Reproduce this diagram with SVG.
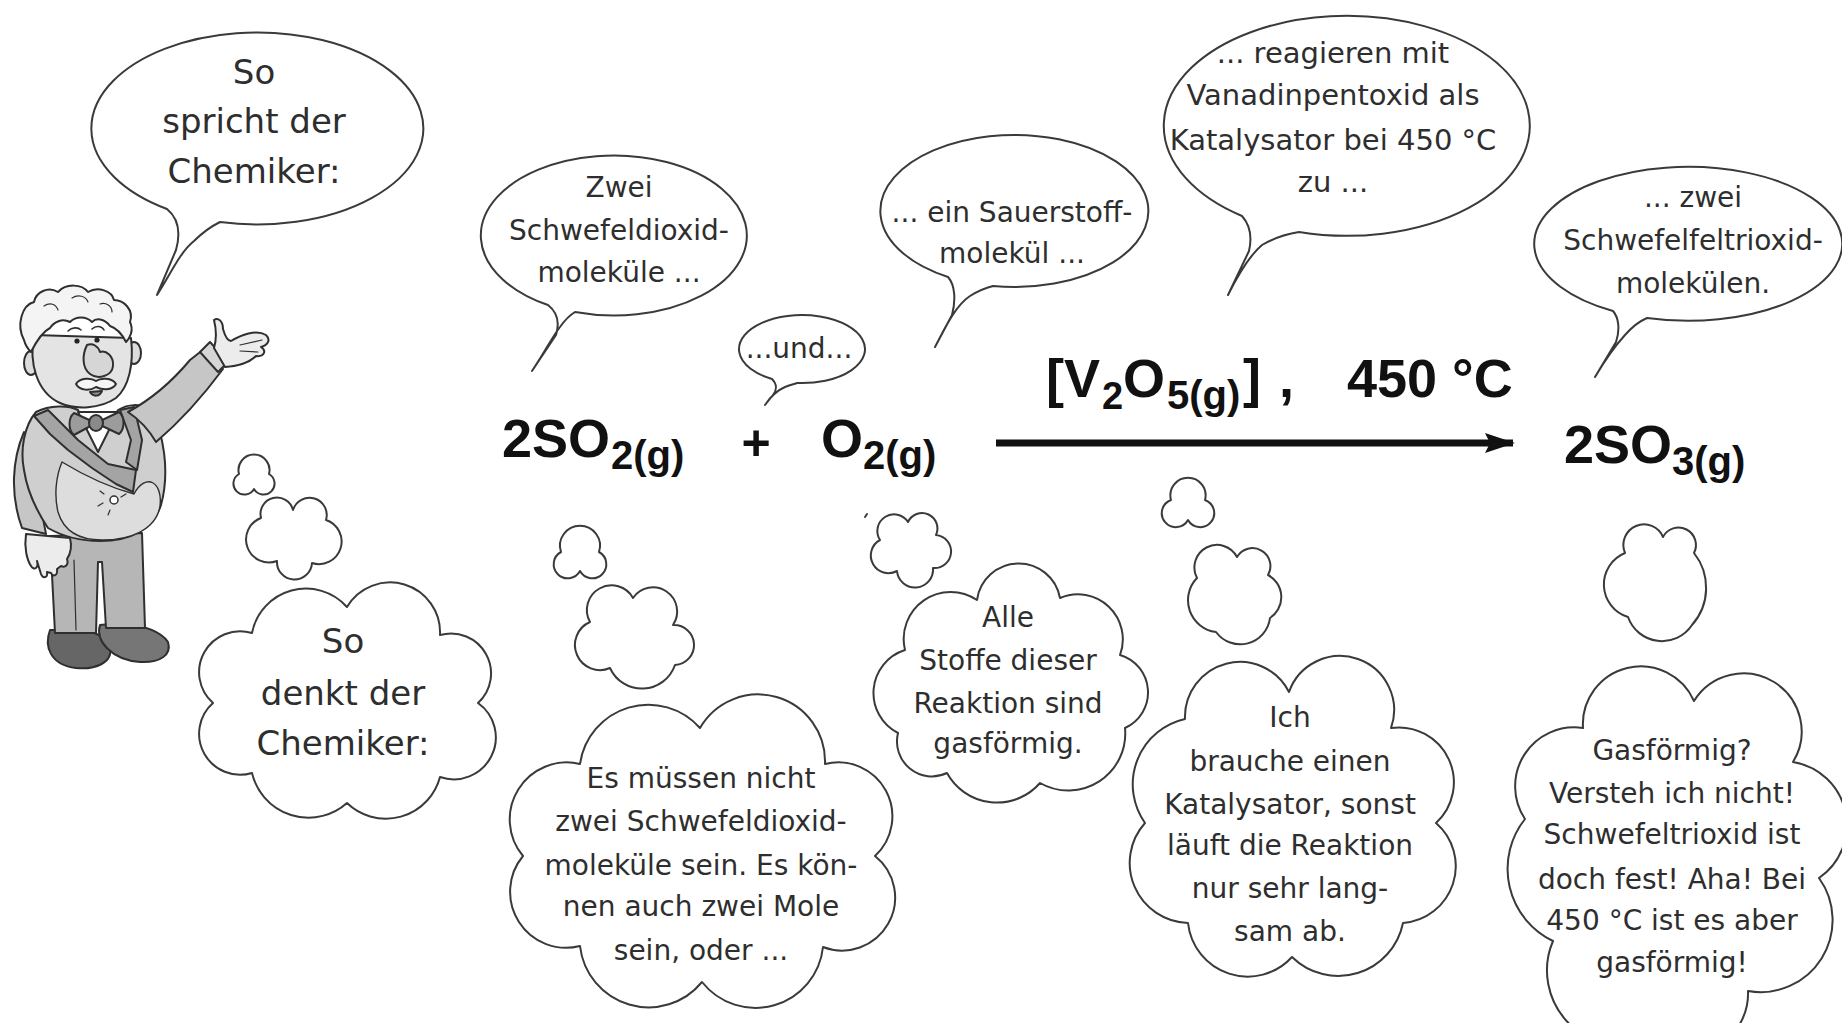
<svg xmlns="http://www.w3.org/2000/svg" width="1842" height="1023" viewBox="0 0 1842 1023">
  <style>
    .t { font-family: 'DejaVu Sans', 'Noto Sans', sans-serif; fill: #2e2e2e; text-anchor: middle; }
    .s28 { font-size: 28px; }
    .s29 { font-size: 29px; }
    .s34 { font-size: 34px; }
    .shape { fill: #ffffff; stroke: #3a3a3a; stroke-width: 2; stroke-linejoin: round; }
    .f { font-family: 'Liberation Sans', Arial, sans-serif; font-weight: bold; fill: #111111; }
    .ink { stroke: #2f2f2f; stroke-width: 2; stroke-linejoin: round; stroke-linecap: round; }
  </style>
  <defs>
    <marker id="head" markerWidth="30" markerHeight="20" refX="28" refY="10" orient="auto" markerUnits="userSpaceOnUse">
      <path d="M0,0 L30,10 L0,20 L5,10 Z" fill="#111111"/>
    </marker>
  </defs>
  <rect width="1842" height="1023" fill="#ffffff"/>

  <!-- chemist figure -->
  <g id="chemist" class="ink">
    <!-- shoes -->
    <path d="M50,630 C44,646 50,665 76,668 C96,670 113,662 110,648 C108,638 96,632 80,630 Z" fill="#666666"/>
    <path d="M100,625 C95,641 112,660 140,662 C160,663 172,655 168,642 C160,630 140,625 120,623 Z" fill="#767676"/>
    <!-- trousers -->
    <path d="M50,536 L55,633 L96,633 L98,562 L102,562 L106,628 L145,628 L142,533 Z" fill="#b6b6b6"/>
    <path d="M74,560 L76,630" fill="none" stroke-width="1.2"/>
    <!-- hanging arm -->
    <path d="M24,432 C12,460 10,495 22,528 L46,534 C40,510 42,485 50,470 C44,452 36,440 24,432 Z" fill="#c6c6c6"/>
    <path d="M26,534 C24,548 27,560 31,566 C34,571 39,568 37,561 L41,574 C43,579 48,578 47,572 L51,573 C53,577 58,576 57,569 L61,566 C65,568 69,565 67,559 C71,553 72,546 70,538 Z" fill="#ececec"/>
    <!-- jacket body -->
    <path d="M36,412 C50,405 68,405 78,410 L98,450 L118,410 C128,404 140,403 150,410 C164,432 170,472 161,505 C153,530 130,541 100,541 C80,541 62,536 48,528 C36,510 27,490 24,470 C20,450 24,426 36,412 Z" fill="#cfcfcf"/>
    <!-- belly -->
    <path d="M62,462 C85,476 112,488 134,494 C146,472 163,482 160,506 C156,530 130,540 102,540 C80,540 64,532 58,512 C54,495 56,476 62,462 Z" fill="#dddddd" stroke-width="1.4"/>
    <!-- lapels -->
    <path d="M34,416 L48,410 L78,440 L108,464 L136,470 L133,492 L116,484 L92,468 L68,450 L50,434 Z" fill="#a4a4a4"/>
    <path d="M120,410 L134,407 L142,440 L137,470 L126,462 L131,440 Z" fill="#a4a4a4"/>
    <!-- flower on the belly -->
    <circle cx="114" cy="500" r="4" fill="#ffffff" stroke-width="1.5"/>
    <path d="M104,494 L100,491 M103,503 L98,506 M110,510 L108,515 M121,497 L126,494" fill="none" stroke-width="1.2"/>
    <!-- shirt collar -->
    <path d="M78,412 L98,452 L118,412 Z" fill="#ffffff"/>
    <!-- bow tie -->
    <path d="M96,423 L74,413 C68,418 68,430 74,435 Z" fill="#9c9c9c"/>
    <path d="M96,423 L119,412 C125,417 125,429 119,434 Z" fill="#9c9c9c"/>
    <ellipse cx="96" cy="423" rx="7" ry="8" fill="#8a8a8a"/>
    <!-- raised arm -->
    <path d="M128,412 C150,400 170,384 190,360 L204,349 L223,369 C206,392 182,420 156,442 C149,430 140,420 128,412 Z" fill="#c6c6c6"/>
    <path d="M200,352 L210,342 L228,362 L218,372 Z" fill="#d6d6d6"/>
    <path d="M214,348 C217,338 216,328 214,320 C218,317 223,321 223,329 C225,336 227,341 231,341 C241,335 256,329 266,335 C271,340 268,345 261,347 C267,351 264,357 256,356 C250,362 238,366 225,367 Z" fill="#ececec"/>
    <path d="M240,345 L262,340 M240,351 L258,352" fill="none" stroke-width="1.2"/>
    <!-- head -->
    <ellipse cx="31" cy="363" rx="7" ry="12" fill="#dcdcdc"/>
    <ellipse cx="134" cy="353" rx="7" ry="11" fill="#dcdcdc"/>
    <path d="M34,335 C29,362 36,392 60,403 C76,410 100,409 116,398 C129,387 134,364 131,338 Z" fill="#e4e4e4"/>
    <path d="M24,340 C16,325 22,305 34,302 C36,292 48,286 58,292 C66,283 82,284 88,292 C98,286 112,291 114,300 C124,300 134,310 130,322 C134,330 130,338 126,342 C122,334 116,328 110,326 C104,318 96,318 92,322 C86,316 76,316 70,322 C62,318 54,322 50,328 C42,332 36,342 31,352 C27,348 25,344 24,340 Z" fill="#f4f4f4"/>
    <path d="M44,306 C50,302 56,304 58,310 M72,298 C78,294 86,296 88,302 M100,304 C106,302 112,306 112,312" fill="none" stroke-width="1.2"/>
    <path d="M68,331 C72,327 78,327 81,330 M92,329 C96,325 102,326 104,330" fill="none" stroke-width="1.6"/>
    <circle cx="77" cy="341" r="2.6" fill="#222222" stroke="none"/>
    <circle cx="97" cy="340" r="2.6" fill="#222222" stroke="none"/>
    <path d="M87,345 C82,355 82,368 90,374 C98,380 112,376 113,366 C114,356 106,350 100,352 C98,346 93,343 87,345 Z" fill="#d6d6d6"/>
    <path d="M90,392 C93,397 100,397 102,391 Z" fill="#8c8c8c"/>
    <path d="M76,384 C80,377 92,378 96,381 C100,378 112,377 116,384 C112,391 102,390 96,387 C90,391 80,391 76,384 Z" fill="#f6f6f6"/>
  </g>

  <!-- speech bubbles -->
  <g id="speech-chemiker">
    <path class="shape" d="M220,222 A166,96 0 1,0 167,209 C178,218 181,232 176,250 L157,295 C170,275 180,252 194,241 C202,233 210,227 220,222 Z"/>
    <text class="t s34" x="254" y="84">So</text>
    <text class="t s34" x="254" y="133">spricht der</text>
    <text class="t s34" x="254" y="183">Chemiker:</text>
  </g>
  <g id="speech-so2">
    <path class="shape" d="M575,312 A133,80 0 1,0 548,305 C557,312 560,322 556,335 L532,371 C545,352 552,337 560,327 C565,320 570,315 575,312 Z"/>
    <text class="t s28" x="619" y="197">Zwei</text>
    <text class="t s28" x="619" y="240">Schwefeldioxid-</text>
    <text class="t s28" x="619" y="282">moleküle ...</text>
  </g>
  <g id="speech-und">
    <path class="shape" d="M797,383 A63,34 0 1,0 772,379 C777,384 777,390 773,395 L765,405 C771,396 778,390 785,387 C790,385 794,384 797,383 Z"/>
    <text class="t s28" x="799" y="358">...und...</text>
  </g>
  <g id="speech-o2">
    <path class="shape" d="M993,286 A134,76 0 1,0 948,277 C955,285 956,300 952,315 L935,347 C945,328 955,306 970,296 C978,291 985,288 993,286 Z"/>
    <text class="t s28" x="1012" y="222">... ein Sauerstoff-</text>
    <text class="t s28" x="1012" y="263">molekül ...</text>
  </g>
  <g id="speech-catalyst">
    <path class="shape" d="M1299,232 A183,110 0 1,0 1242,216 C1250,225 1252,238 1249,251 L1228,295 C1238,275 1250,255 1262,245 C1274,238 1286,234 1299,232 Z"/>
    <text class="t s29" x="1333" y="63">... reagieren mit</text>
    <text class="t s29" x="1333" y="105">Vanadinpentoxid als</text>
    <text class="t s29" x="1333" y="150">Katalysator bei 450 °C</text>
    <text class="t s29" x="1333" y="192">zu ...</text>
  </g>
  <g id="speech-so3">
    <path class="shape" d="M1647,318 A154,77 0 1,0 1613,311 C1619,318 1620,330 1616,342 L1595,377 C1605,360 1615,346 1625,335 C1632,327 1640,321 1647,318 Z"/>
    <text class="t s28" x="1693" y="207">... zwei</text>
    <text class="t s28" x="1693" y="250">Schwefelfeltrioxid-</text>
    <text class="t s28" x="1693" y="293">molekülen.</text>
  </g>

  <!-- reaction equation -->
  <g id="equation">
    <text class="f" font-size="54" x="502" y="457">2SO<tspan font-size="40" x="611" y="469">2(g)</tspan></text>
    <text class="f" font-size="50" x="756" y="460" text-anchor="middle">+</text>
    <text class="f" font-size="54" x="821" y="457">O<tspan font-size="40" x="863" y="469">2(g)</tspan></text>
    <text class="f" font-size="54" x="1564" y="463">2SO<tspan font-size="40" x="1672" y="475">3(g)</tspan></text>
    <text class="f" font-size="54" x="1046" y="397">[V<tspan font-size="38" x="1102" y="409">2</tspan><tspan x="1123" y="397">O</tspan><tspan font-size="40" x="1167" y="409">5(g)</tspan><tspan x="1243" y="397">]</tspan><tspan x="1279" y="397">,</tspan><tspan x="1347" y="397">450 °C</tspan></text>
  </g>

  <g id="connectors">
    <line x1="996" y1="443" x2="1513" y2="443" stroke="#111111" stroke-width="7" marker-end="url(#head)"/>
  </g>

  <!-- thought clouds -->
  <g id="thought-chemiker">
    <path class="shape" d="M239,474 A15.5,15.5 0 1,1 269,474 A11,11 0 1,1 254,489 A11,11 0 1,1 239,474 Z"/>
    <path class="shape" d="M293,510 A1,1 0 0,1 326,520 A1,1 0 0,1 312,563 A1,1 0 0,1 277,561 A1,1 0 0,1 261,518 A1,1 0 0,1 293,510 Z"/>
    <path class="shape" d="M252,633 A55,55 0 0,1 347,607 A50,50 0 0,1 440,635 A40,40 0 0,1 478,703 A42,42 0 0,1 440,777 A56,56 0 0,1 347,803 A58,58 0 0,1 252,773 A41,41 0 0,1 213,703 A41,41 0 0,1 252,633 Z"/>
    <text class="t s34" x="343" y="653">So</text>
    <text class="t s34" x="343" y="705">denkt der</text>
    <text class="t s34" x="343" y="755">Chemiker:</text>
  </g>
  <g id="thought-mole">
    <path class="shape" d="M561,552 A20,20 0 1,1 599,552 A14,14 0 1,1 580,571 A14,14 0 1,1 561,552 Z"/>
    <path class="shape" d="M633,598 A1,1 0 0,1 673,625 A1,1 0 0,1 675,665 A35,35 0 0,1 610,668 A1,1 0 0,1 590,622 A1,1 0 0,1 633,598 Z"/>
    <path class="shape" d="M580,764 A69,69 0 0,1 700,728 A67,67 0 0,1 825,764 A54,54 0 0,1 875,856 A53,53 0 0,1 823,947 A68,68 0 0,1 702,982 A69,69 0 0,1 580,946 A56,56 0 0,1 523,856 A57,57 0 0,1 580,764 Z"/>
    <text class="t s28" x="701" y="788">Es müssen nicht</text>
    <text class="t s28" x="701" y="831">zwei Schwefeldioxid-</text>
    <text class="t s28" x="701" y="875">moleküle sein. Es kön-</text>
    <text class="t s28" x="701" y="916">nen auch zwei Mole</text>
    <text class="t s28" x="701" y="960">sein, oder ...</text>
  </g>
  <g id="thought-gas">
    <path d="M865,517 L867,514" fill="none" stroke="#3a3a3a" stroke-width="2" stroke-linecap="round"/>
    <path class="shape" d="M908,522 A1,1 0 0,1 936,535 A1,1 0 0,1 933,568 A1,1 0 0,1 897,571 A1,1 0 0,1 880,540 A1,1 0 0,1 908,522 Z"/>
    <path class="shape" d="M905,650 A47,47 0 0,1 977,600 A42,42 0 0,1 1060,598 A45,45 0 0,1 1120,655 A39,39 0 0,1 1125,728 A57,57 0 0,1 1040,783 A57,57 0 0,1 947,773 A35,35 0 0,1 898,733 A45,45 0 0,1 905,650 Z"/>
    <text class="t s28" x="1008" y="627">Alle</text>
    <text class="t s28" x="1008" y="670">Stoffe dieser</text>
    <text class="t s28" x="1008" y="713">Reaktion sind</text>
    <text class="t s28" x="1008" y="753">gasförmig.</text>
  </g>
  <g id="thought-catalyst">
    <path class="shape" d="M1171,500 A17.6,17.6 0 1,1 1205,500 A14,14 0 1,1 1188,520 A14,14 0 1,1 1171,500 Z"/>
    <path class="shape" d="M1237,557 A1,1 0 0,1 1268,575 A25,25 0 0,1 1270,618 A30,30 0 0,1 1216,632 A32,32 0 0,1 1197,578 A1,1 0 0,1 1237,557 Z"/>
    <path class="shape" d="M1185,719 A55,55 0 0,1 1289,692 A54,54 0 0,1 1391,728 A55,55 0 0,1 1436,823 A57,57 0 0,1 1403,923 A66,66 0 0,1 1292,957 A60,60 0 0,1 1188,923 A60,60 0 0,1 1145,823 A67,67 0 0,1 1185,719 Z"/>
    <text class="t s28" x="1290" y="727">Ich</text>
    <text class="t s28" x="1290" y="771">brauche einen</text>
    <text class="t s28" x="1290" y="814">Katalysator, sonst</text>
    <text class="t s28" x="1290" y="855">läuft die Reaktion</text>
    <text class="t s28" x="1290" y="898">nur sehr lang-</text>
    <text class="t s28" x="1290" y="941">sam ab.</text>
  </g>
  <g id="thought-so3">
    <path class="shape" d="M1663,537 A1,1 0 0,1 1694,553 A56,56 0 0,1 1692,625 A36,36 0 0,1 1628,617 A34,34 0 0,1 1625,553 A1,1 0 0,1 1663,537 Z"/>
    <path class="shape" d="M1583,728 A58,58 0 0,1 1694,701 A58,58 0 0,1 1793,762 A64,64 0 0,1 1819,878 A72,72 0 0,1 1748,991 A60,60 0 0,1 1650,1040 A75,75 0 0,1 1553,941 A80,80 0 0,1 1525,819 A59,59 0 0,1 1583,728 Z"/>
    <text class="t s28" x="1672" y="760">Gasförmig?</text>
    <text class="t s28" x="1672" y="803">Versteh ich nicht!</text>
    <text class="t s28" x="1672" y="844">Schwefeltrioxid ist</text>
    <text class="t s28" x="1672" y="889">doch fest! Aha! Bei</text>
    <text class="t s28" x="1672" y="930">450 °C ist es aber</text>
    <text class="t s28" x="1672" y="972">gasförmig!</text>
  </g>
</svg>
